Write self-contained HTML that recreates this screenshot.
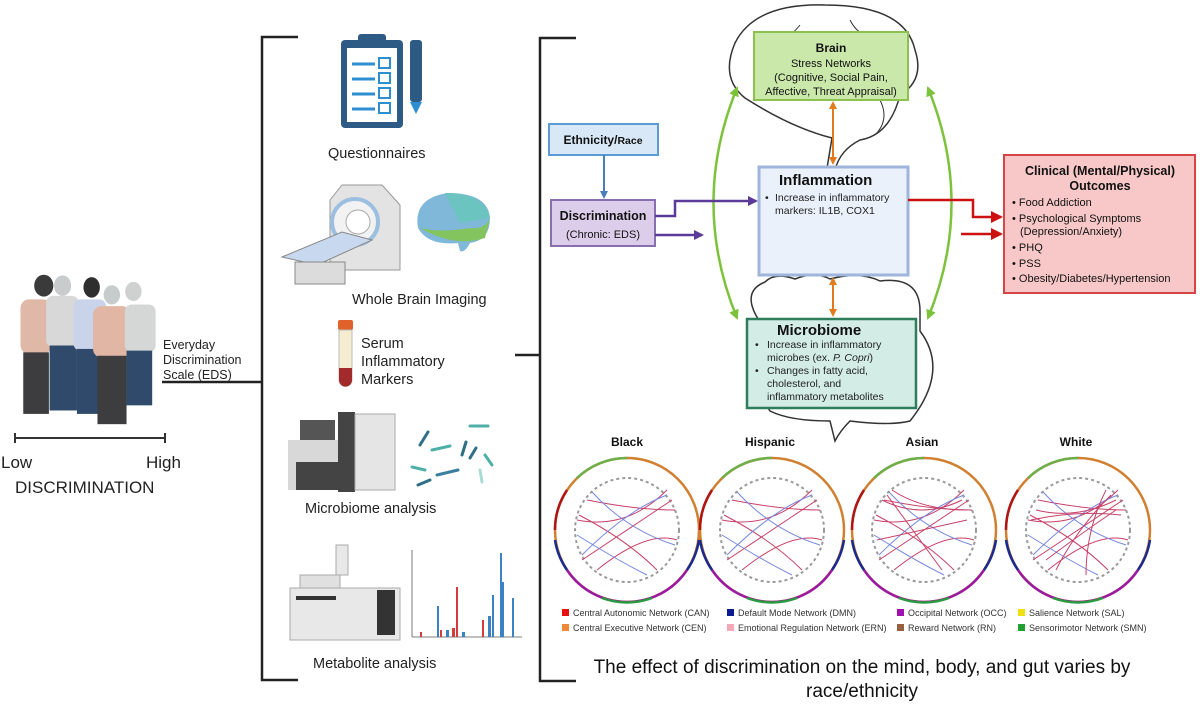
<!DOCTYPE html>
<html><head><meta charset="utf-8"><style>
html,body{margin:0;padding:0;background:#fff}
svg{display:block}
text{font-family:"Liberation Sans",sans-serif}
</style></head><body>
<svg width="1200" height="718" viewBox="0 0 1200 718" xmlns="http://www.w3.org/2000/svg">
<defs>
<marker id="ab" markerWidth="8" markerHeight="8" refX="6" refY="4" orient="auto" markerUnits="userSpaceOnUse"><path d="M0,0 L8,4 L0,8z" fill="#4a7ebb"/></marker>
<marker id="ap" markerWidth="10" markerHeight="10" refX="8" refY="5" orient="auto" markerUnits="userSpaceOnUse"><path d="M0,0 L10,5 L0,10z" fill="#5b3a99"/></marker>
<marker id="ar" markerWidth="12" markerHeight="12" refX="10" refY="6" orient="auto" markerUnits="userSpaceOnUse"><path d="M0,0 L12,6 L0,12z" fill="#cc1111"/></marker>
<marker id="ao" markerWidth="8" markerHeight="8" refX="6" refY="4" orient="auto-start-reverse" markerUnits="userSpaceOnUse"><path d="M0,0 L8,4 L0,8z" fill="#e07b20"/></marker>
<marker id="ag" markerWidth="10" markerHeight="10" refX="8" refY="5" orient="auto-start-reverse" markerUnits="userSpaceOnUse"><path d="M0,0 L10,5 L0,10z" fill="#7cc23a"/></marker>
</defs>

<!-- people -->
<g>
<circle cx="170" cy="285" r="0" fill="none"/>
<g transform="translate(0,260) scale(0.342)">
<ellipse cx="128" cy="75" rx="28" ry="32" fill="#3a3a3a"/>
<rect x="60" y="115" width="90" height="160" rx="25" fill="#e0b8a8"/>
<rect x="68" y="270" width="75" height="180" fill="#3d3d40"/>
<ellipse cx="183" cy="75" rx="25" ry="30" fill="#c9cccc"/>
<rect x="135" y="105" width="95" height="150" rx="20" fill="#d8d8d8"/>
<rect x="145" y="250" width="80" height="190" fill="#2f4a6b"/>
<ellipse cx="268" cy="80" rx="24" ry="30" fill="#2e2e2e"/>
<rect x="215" y="115" width="95" height="150" rx="20" fill="#c9d3ea"/>
<rect x="225" y="260" width="70" height="190" fill="#2f4a6b"/>
<ellipse cx="327" cy="102" rx="24" ry="28" fill="#c6cbcb"/>
<rect x="272" y="135" width="110" height="150" rx="25" fill="#e2b6a4"/>
<rect x="285" y="280" width="85" height="200" fill="#3d3d40"/>
<ellipse cx="390" cy="92" rx="24" ry="28" fill="#cfd1d1"/>
<rect x="365" y="130" width="90" height="140" rx="20" fill="#d5d7d7"/>
<rect x="370" y="265" width="75" height="160" fill="#2f4a6b"/>
</g>
</g>
<line x1="15" y1="438" x2="165" y2="438" stroke="#333" stroke-width="2"/>
<line x1="15" y1="433" x2="15" y2="443" stroke="#333" stroke-width="2"/>
<line x1="165" y1="433" x2="165" y2="443" stroke="#333" stroke-width="2"/>
<text x="1" y="468" font-size="17" fill="#222">Low</text>
<text x="146" y="468" font-size="17" fill="#222">High</text>
<text x="15" y="493" font-size="17" fill="#222">DISCRIMINATION</text>
<text x="163" y="349" font-size="12.5" fill="#222">Everyday</text>
<text x="163" y="364" font-size="12.5" fill="#222">Discrimination</text>
<text x="163" y="379" font-size="12.5" fill="#222">Scale (EDS)</text>
<line x1="162" y1="382" x2="263" y2="382" stroke="#222" stroke-width="2.5"/>

<!-- bracket 1 -->
<path d="M298,37 H262 V680 H298" fill="none" stroke="#222" stroke-width="2.5"/>

<!-- clipboard -->
<rect x="341" y="40" width="62" height="88" rx="4" fill="#2d5b86"/>
<rect x="347" y="48" width="50" height="74" fill="#fff"/>
<rect x="358" y="34" width="28" height="12" rx="3" fill="#2d5b86"/>
<g stroke="#2d8fd0" stroke-width="3">
<line x1="352" y1="64" x2="375" y2="64"/><line x1="352" y1="79" x2="375" y2="79"/><line x1="352" y1="94" x2="375" y2="94"/><line x1="352" y1="109" x2="375" y2="109"/></g>
<g fill="none" stroke="#2d8fd0" stroke-width="2">
<rect x="379" y="58" width="11" height="10"/><rect x="379" y="73" width="11" height="10"/><rect x="379" y="88" width="11" height="10"/><rect x="379" y="103" width="11" height="10"/></g>
<rect x="410" y="40" width="12" height="62" rx="3" fill="#2d5b86"/>
<path d="M410,102 h12 l-6,12z" fill="#2d8fd0"/>
<text x="328" y="158" font-size="14.5" fill="#222">Questionnaires</text>

<!-- MRI -->
<path d="M342,185 h40 l18,20 v65 h-70 v-70z" fill="#e3e3e3" stroke="#999"/>
<circle cx="355" cy="222" r="23" fill="#f2f2f2" stroke="#9cbfe0" stroke-width="4"/>
<circle cx="358" cy="222" r="12" fill="#fff" stroke="#aaa"/>
<path d="M282,257 l60,-25 l30,8 l-55,25z" fill="#c8d8ee" stroke="#888"/>
<rect x="295" y="262" width="50" height="22" fill="#dcdcdc" stroke="#888"/>
<path d="M418,228 q-5,-30 30,-35 q40,0 42,25 q0,22 -20,25 q-5,10 -10,8 l-2,-8 q-30,3 -40,-15z" fill="#7fb8d8"/>
<path d="M445,193 q40,0 45,25 l-30,5 z" fill="#6cc4c0"/>
<path d="M420,228 q20,5 50,0 q15,2 20,-10 l-5,20 q-30,10 -65,-10z" fill="#83c45f"/>
<text x="352" y="304" font-size="14.5" fill="#222">Whole Brain Imaging</text>

<!-- tube -->
<rect x="338" y="320" width="15" height="10" rx="2" fill="#e0612a"/>
<path d="M339,330 h13 v50 a6.5,6.5 0 0 1 -13,0z" fill="#f6ecd0" stroke="#bbb"/>
<path d="M339,368 h13 v12 a6.5,6.5 0 0 1 -13,0z" fill="#a32a2a"/>
<text x="361" y="348" font-size="14.5" fill="#222">Serum</text>
<text x="361" y="366" font-size="14.5" fill="#222">Inflammatory</text>
<text x="361" y="384" font-size="14.5" fill="#222">Markers</text>
<line x1="515" y1="355" x2="541" y2="355" stroke="#222" stroke-width="2.5"/>

<!-- microbiome machine -->
<rect x="300" y="420" width="35" height="25" fill="#555"/>
<rect x="288" y="440" width="50" height="50" fill="#d8d8d8"/>
<rect x="296" y="462" width="45" height="28" fill="#444"/>
<rect x="338" y="412" width="17" height="80" fill="#444"/>
<rect x="355" y="414" width="40" height="76" fill="#e5e5e5" stroke="#aaa"/>
<g stroke-width="3" stroke-linecap="round">
<line x1="420" y1="445" x2="428" y2="432" stroke="#2e6f86"/>
<line x1="432" y1="450" x2="450" y2="446" stroke="#4fb0a8"/>
<line x1="470" y1="426" x2="488" y2="426" stroke="#4fb0a8"/>
<line x1="462" y1="455" x2="466" y2="442" stroke="#2e6f86"/>
<line x1="476" y1="448" x2="470" y2="458" stroke="#2e6f86"/>
<line x1="412" y1="467" x2="425" y2="470" stroke="#4fb0a8"/>
<line x1="437" y1="475" x2="458" y2="470" stroke="#3b7fa0"/>
<line x1="418" y1="485" x2="430" y2="480" stroke="#2e6f86"/>
<line x1="480" y1="470" x2="482" y2="482" stroke="#a8dcd4"/>
<line x1="485" y1="455" x2="492" y2="465" stroke="#4fb0a8"/>
</g>
<text x="305" y="513" font-size="14.5" fill="#222">Microbiome analysis</text>

<!-- metabolite -->
<rect x="336" y="545" width="12" height="30" fill="#e8e8e8" stroke="#aaa"/>
<rect x="300" y="575" width="40" height="15" fill="#e0e0e0" stroke="#aaa"/>
<rect x="290" y="588" width="110" height="52" fill="#e8e8e8" stroke="#aaa"/>
<rect x="296" y="596" width="40" height="4" fill="#333"/>
<rect x="377" y="590" width="18" height="45" fill="#333"/>
<line x1="412" y1="550" x2="412" y2="637" stroke="#555" stroke-width="0.8"/>
<line x1="412" y1="637" x2="522" y2="637" stroke="#555" stroke-width="0.8"/>
<g fill="#3b82c4">
<rect x="437" y="606" width="2" height="31"/><rect x="488" y="616" width="3" height="21"/><rect x="492" y="595" width="2" height="42"/><rect x="500" y="553" width="2" height="84"/><rect x="502" y="582" width="2" height="55"/><rect x="512" y="598" width="2" height="39"/><rect x="446" y="630" width="3" height="7"/><rect x="462" y="632" width="3" height="5"/></g>
<g fill="#d63a3a"><rect x="456" y="587" width="2" height="50"/><rect x="482" y="620" width="2" height="17"/><rect x="440" y="630" width="2" height="7"/><rect x="452" y="628" width="3" height="9"/><rect x="420" y="632" width="2" height="5"/></g>
<text x="313" y="668" font-size="14.5" fill="#222">Metabolite analysis</text>

<!-- bracket 2 -->
<path d="M576,38 H540 V681 H576" fill="none" stroke="#222" stroke-width="2.5"/>

<!-- brain outline -->
<path d="M745,98 q-25,-20 -10,-55 q20,-40 90,-38 q80,0 90,45 q10,30 -15,45 q-10,40 -40,45 q-20,10 -25,30 l-8,-2 l5,-30 q-40,-10 -87,-40z" fill="#fff" stroke="#333" stroke-width="1.5"/>
<path d="M760,40 q20,10 40,-15 M850,20 q10,20 30,15 M880,100 q10,20 -5,35" fill="none" stroke="#333"/>
<!-- intestine outline -->
<path d="M760,322 q-20,-30 5,-40 q10,-10 30,-3 q20,-8 35,0 q30,-8 50,2 q40,-5 40,30 v20 q30,40 -10,90 q-20,5 -60,0 q-10,10 -15,20 l-5,-20 q-40,0 -60,-10 q-20,-30 -10,-90z" fill="#fff" stroke="#333" stroke-width="1.5"/>

<!-- green arcs -->
<path d="M737,88 Q690,203 737,318" fill="none" stroke="#7cc23a" stroke-width="2.5" marker-start="url(#ag)" marker-end="url(#ag)"/>
<path d="M928,88 Q975,203 928,318" fill="none" stroke="#7cc23a" stroke-width="2.5" marker-start="url(#ag)" marker-end="url(#ag)"/>

<!-- boxes -->
<rect x="754" y="32" width="154" height="68" fill="#cbe8ab" stroke="#8cc04f" stroke-width="2"/>
<text x="831" y="52" font-size="12" font-weight="bold" text-anchor="middle" fill="#111">Brain</text>
<text x="831" y="67" font-size="11" text-anchor="middle" fill="#111">Stress Networks</text>
<text x="831" y="81" font-size="11" text-anchor="middle" fill="#111">(Cognitive, Social Pain,</text>
<text x="831" y="95" font-size="11" text-anchor="middle" fill="#111">Affective, Threat Appraisal)</text>

<rect x="549" y="124" width="109" height="31" fill="#d8e8f7" stroke="#5b9bd5" stroke-width="2"/>
<text x="603" y="144" font-size="12" font-weight="bold" text-anchor="middle" fill="#111">Ethnicity/<tspan font-size="10.5">Race</tspan></text>
<line x1="604" y1="155" x2="604" y2="197" stroke="#4a7ebb" stroke-width="2" marker-end="url(#ab)"/>

<rect x="551" y="200" width="104" height="46" fill="#dccdea" stroke="#8a6fb0" stroke-width="2"/>
<text x="603" y="220" font-size="12.5" font-weight="bold" text-anchor="middle" fill="#111">Discrimination</text>
<text x="603" y="238" font-size="11" text-anchor="middle" fill="#111">(Chronic: EDS)</text>
<path d="M655,216 H675 V201 H756" fill="none" stroke="#5b3a99" stroke-width="2.5" marker-end="url(#ap)"/>
<path d="M655,235 H702" fill="none" stroke="#5b3a99" stroke-width="2.5" marker-end="url(#ap)"/>

<rect x="759" y="167" width="149" height="108" fill="#eaf1fb" stroke="#9fb5dc" stroke-width="3"/>
<text x="779" y="185" font-size="15" font-weight="bold" fill="#111">Inflammation</text>
<text x="765" y="201" font-size="10.5" fill="#222">•</text>
<text x="775" y="201" font-size="10.5" fill="#222">Increase in inflammatory</text>
<text x="775" y="214" font-size="10.5" fill="#222">markers: IL1B, COX1</text>

<line x1="833" y1="103" x2="833" y2="163" stroke="#e07b20" stroke-width="2" marker-start="url(#ao)" marker-end="url(#ao)"/>
<line x1="833" y1="279" x2="833" y2="315" stroke="#e07b20" stroke-width="2" marker-start="url(#ao)" marker-end="url(#ao)"/>

<path d="M908,200 H973 V217 H1001" fill="none" stroke="#cc1111" stroke-width="2.5" marker-end="url(#ar)"/>
<path d="M961,234 H1001" fill="none" stroke="#cc1111" stroke-width="2.5" marker-end="url(#ar)"/>

<rect x="1004" y="155" width="191" height="138" fill="#f8c8c8" stroke="#d64545" stroke-width="2"/>
<text x="1100" y="175" font-size="12.5" font-weight="bold" text-anchor="middle" fill="#111">Clinical (Mental/Physical)</text>
<text x="1100" y="190" font-size="12.5" font-weight="bold" text-anchor="middle" fill="#111">Outcomes</text>
<g font-size="11" fill="#111">
<text x="1012" y="206">• Food Addiction</text>
<text x="1012" y="222">• Psychological Symptoms</text>
<text x="1020" y="235">(Depression/Anxiety)</text>
<text x="1012" y="251">• PHQ</text>
<text x="1012" y="267">• PSS</text>
<text x="1012" y="282">• Obesity/Diabetes/Hypertension</text>
</g>

<rect x="747" y="319" width="169" height="89" fill="#d3ece6" stroke="#2e7d5b" stroke-width="2.5"/>
<text x="777" y="335" font-size="15" font-weight="bold" fill="#111">Microbiome</text>
<g font-size="10.5" fill="#222">
<text x="755" y="348">•</text><text x="767" y="348">Increase in inflammatory</text>
<text x="767" y="361">microbes (ex. <tspan font-style="italic">P. Copri</tspan>)</text>
<text x="755" y="374">•</text><text x="767" y="374">Changes in fatty acid,</text>
<text x="767" y="387">cholesterol, and</text>
<text x="767" y="400">inflammatory metabolites</text>
</g>

<!-- chord diagrams -->
<g font-size="12" font-weight="bold" text-anchor="middle" fill="#111">
<text x="627" y="446">Black</text><text x="770" y="446">Hispanic</text><text x="922" y="446">Asian</text><text x="1076" y="446">White</text>
</g>
<g id="c1" fill="none">
<g transform="translate(627,530)">
<circle r="72" stroke="#d08030" stroke-width="2.5"/>
<path d="M-50,-52 A72,72 0 0 1 0,-72" stroke="#6bb04a" stroke-width="2.5"/>
<path d="M-72,0 A72,72 0 0 1 -60,-40" stroke="#b01515" stroke-width="2.5"/>
<path d="M-60,40 A72,72 0 0 0 0,72 A72,72 0 0 0 60,40" stroke="#9a1aa0" stroke-width="2.5"/>
<path d="M-72,10 A72,72 0 0 0 -60,40" stroke="#1a2a90" stroke-width="2.5"/>
<path d="M72,10 A72,72 0 0 1 60,40" stroke="#1a2a90" stroke-width="2.5"/>
<path d="M-25,68 A72,72 0 0 0 25,68" stroke="#2a9a40" stroke-width="2.5"/>
<circle r="52" stroke="#9a9a9a" stroke-width="2" stroke-dasharray="3 3"/>
<path d="M-50,-10 Q0,0 40,-40 M-45,30 Q0,0 45,-30 M-40,-30 Q10,-20 48,-20 M-30,40 Q20,0 50,10 M-48,-15 Q0,10 30,40" stroke="#c8406a"/>
<path d="M-45,25 Q0,-20 40,-35 M-50,5 Q-10,30 20,45 M-35,-38 Q0,0 48,15" stroke="#7788dd"/>
</g>
</g>
<use href="#c1" x="145"/>
<use href="#c1" x="297"/>
<use href="#c1" x="451"/>
<g transform="translate(922,530)" fill="none" stroke="#c8406a"><path d="M-40,-30 Q0,-10 40,-30 M-30,-40 Q0,-20 45,-20 M-45,10 Q0,0 45,-10 M-35,-35 L20,40"/></g>
<g transform="translate(1076,530)" fill="none" stroke="#c8406a"><path d="M-40,-20 Q0,-10 40,-30 M-20,40 Q0,0 35,-35 M10,45 Q10,0 30,-40 M-30,30 Q10,0 40,-20 M-45,-10 Q0,-20 45,-15"/></g>

<!-- legend -->
<g font-size="9" fill="#333">
<rect x="562" y="609" width="7" height="7" fill="#e81010"/><text x="573" y="616">Central Autonomic Network (CAN)</text>
<rect x="562" y="624" width="7" height="7" fill="#f08a3a"/><text x="573" y="631">Central Executive Network (CEN)</text>
<rect x="727" y="609" width="7" height="7" fill="#0a1a90"/><text x="738" y="616">Default Mode Network (DMN)</text>
<rect x="727" y="624" width="7" height="7" fill="#f4a8b8"/><text x="738" y="631">Emotional Regulation Network (ERN)</text>
<rect x="897" y="609" width="7" height="7" fill="#a010b0"/><text x="908" y="616">Occipital Network (OCC)</text>
<rect x="897" y="624" width="7" height="7" fill="#946240"/><text x="908" y="631">Reward Network (RN)</text>
<rect x="1018" y="609" width="7" height="7" fill="#f0e010"/><text x="1029" y="616">Salience Network (SAL)</text>
<rect x="1018" y="624" width="7" height="7" fill="#20a030"/><text x="1029" y="631">Sensorimotor Network (SMN)</text>
</g>

<text x="862" y="673" font-size="19" text-anchor="middle" fill="#111">The effect of discrimination on the mind, body, and gut varies by</text>
<text x="862" y="697" font-size="19" text-anchor="middle" fill="#111">race/ethnicity</text>
</svg>
</body></html>
